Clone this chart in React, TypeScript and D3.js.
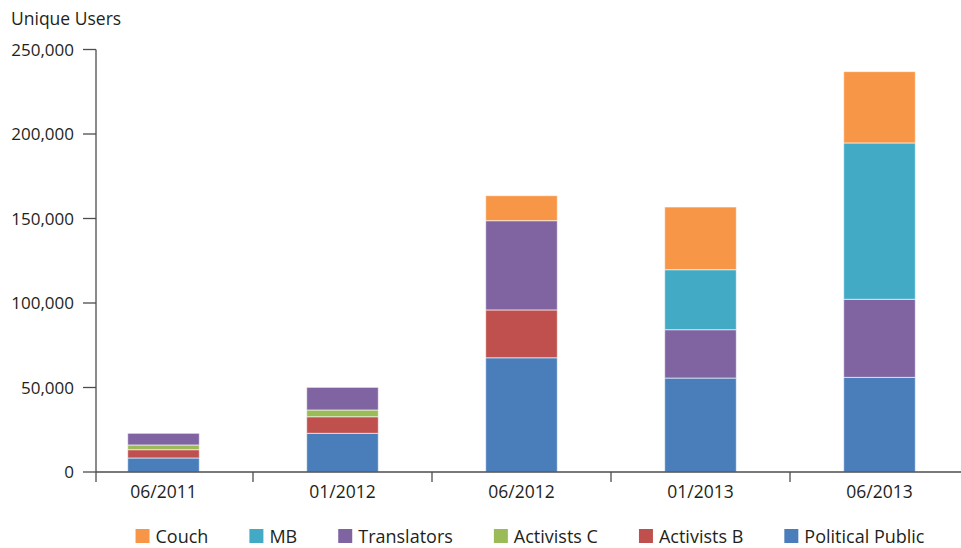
import * as d3 from "d3";
import React, { useEffect, useRef } from "react";

const periods = ["06/2011", "01/2012", "06/2012", "01/2013", "06/2013"];
// stacked bottom -> top
const politicalPublic = [8300, 22900, 67600, 55600, 56000];
const activistsB = [4900, 9800, 28300, 0, 0];
const activistsC = [2800, 4000, 0, 0, 0];
const translators = [6900, 13400, 52800, 28600, 46200];
const mb = [0, 0, 0, 35500, 92500];
const couch = [0, 0, 14800, 37100, 42200];
const yTicks = [0, 50000, 100000, 150000, 200000, 250000];

const seriesNames = ["Political Public", "Activists B", "Activists C", "Translators", "MB", "Couch"];
const seriesValues = [politicalPublic, activistsB, activistsC, translators, mb, couch];
const seriesColors = ["#4a7ebb", "#c0504d", "#9bbb59", "#8064a2", "#43aac6", "#f79646"];
// legend order as in picture
const legendOrder = ["Couch", "MB", "Translators", "Activists C", "Activists B", "Political Public"];

const W = 961;
const H = 548;
const FONT = "'Open Sans', sans-serif";

export default function App() {
  const ref = useRef<SVGSVGElement>(null);

  useEffect(() => {
    document.body.style.margin = "0";
    const svg = d3.select(ref.current);
    svg.selectAll("*").remove();

    const axisLeft = 96;
    const y0 = 472;
    const y = d3.scaleLinear().domain([0, 250000]).range([y0, 49.5]);
    const x = d3.scaleBand().domain(periods).range([74, 969]).paddingInner(0.6).paddingOuter(0.3);
    const step = x.step();

    const rows = periods.map((p, i) => {
      const r: any = { period: p };
      seriesNames.forEach((n, k) => (r[n] = seriesValues[k][i]));
      return r;
    });
    const stacked = d3.stack().keys(seriesNames)(rows);
    const color = d3.scaleOrdinal<string, string>().domain(seriesNames).range(seriesColors);

    // bars
    svg
      .append("g")
      .selectAll("g")
      .data(stacked)
      .enter()
      .append("g")
      .attr("fill", (d) => color(d.key))
      .selectAll("rect")
      .data((d) => d.filter((s) => s[1] - s[0] > 0))
      .enter()
      .append("rect")
      .attr("x", (d: any) => x(d.data.period))
      .attr("width", x.bandwidth())
      .attr("y", (d) => y(d[1]))
      .attr("height", (d) => y(d[0]) - y(d[1]))
      .attr("stroke", "rgba(255,255,255,0.6)")
      .attr("stroke-width", 1);

    const axisColor = "#4d4d4d";
    const g = svg.append("g").attr("stroke", axisColor).attr("stroke-width", 1.3).attr("fill", "none");
    // y axis
    g.append("line").attr("x1", axisLeft).attr("x2", axisLeft).attr("y1", y(250000)).attr("y2", y0 + 10);
    yTicks.forEach((t) => {
      g.append("line").attr("x1", axisLeft - 13).attr("x2", axisLeft).attr("y1", y(t)).attr("y2", y(t));
    });
    // x axis
    g.append("line").attr("x1", axisLeft).attr("x2", W).attr("y1", y0).attr("y2", y0);
    periods.slice(1).forEach((p) => {
      const tx = (x(p) as number) + x.bandwidth() / 2 - step / 2;
      g.append("line").attr("x1", tx).attr("x2", tx).attr("y1", y0).attr("y2", y0 + 10);
    });

    const textColor = "#231f20";
    svg
      .append("g")
      .selectAll("text")
      .data(yTicks)
      .enter()
      .append("text")
      .attr("x", 74)
      .attr("y", (d) => y(d) + 6)
      .attr("text-anchor", "end")
      .attr("font-family", FONT)
      .attr("font-size", 17)
      .attr("fill", textColor)
      .text((d) => d3.format(",")(d));

    svg
      .append("g")
      .selectAll("text")
      .data(periods)
      .enter()
      .append("text")
      .attr("x", (d) => (x(d) as number) + x.bandwidth() / 2)
      .attr("y", 498)
      .attr("text-anchor", "middle")
      .attr("font-family", FONT)
      .attr("font-size", 17.5)
      .attr("fill", textColor)
      .text((d) => d);

    svg
      .append("text")
      .attr("x", 11)
      .attr("y", 25)
      .attr("font-family", FONT)
      .attr("font-size", 17.5)
      .attr("fill", textColor)
      .text("Unique Users");

    // legend, measured and centered
    const legend = svg.append("g");
    const items = legendOrder.map((name) => {
      const it = legend.append("g");
      it.append("rect").attr("width", 14).attr("height", 14).attr("y", 529).attr("fill", color(name));
      const t = it
        .append("text")
        .attr("x", 20)
        .attr("y", 543)
        .attr("font-family", FONT)
        .attr("font-size", 18)
        .attr("fill", textColor)
        .text(name);
      const w = 20 + (t.node() as SVGTextElement).getComputedTextLength();
      return { it, w };
    });
    const gap = 41;
    const total = d3.sum(items, (d) => d.w) + gap * (items.length - 1);
    let cx = 530 - total / 2;
    items.forEach((d) => {
      d.it.attr("transform", `translate(${cx},0)`);
      cx += d.w + gap;
    });
  }, []);

  return <svg ref={ref} width={W} height={H} style={{ display: "block", background: "#fff" }} />;
}
